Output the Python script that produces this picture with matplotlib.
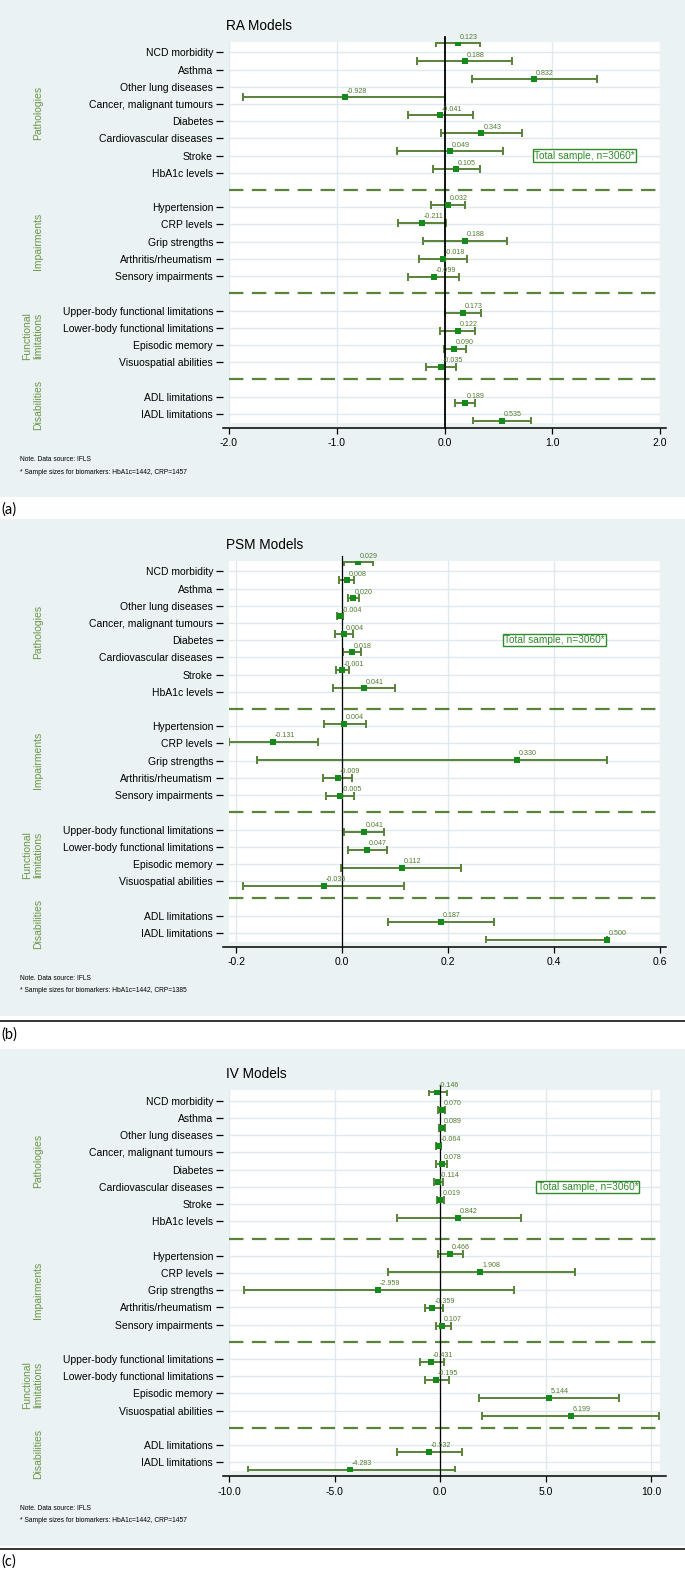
import matplotlib.pyplot as plt
import numpy as np
from matplotlib.patches import Rectangle
from matplotlib.lines import Line2D
from matplotlib.transforms import blended_transform_factory

plt.rcParams['font.family'] = ['Liberation Sans', 'DejaVu Sans']

# ---------------------------------------------------------
# data
# ---------------------------------------------------------
outcomes = ['NCD morbidity', 'Asthma', 'Other lung diseases',
            'Cancer, malignant tumours', 'Diabetes', 'Cardiovascular diseases',
            'Stroke', 'HbA1c levels',
            'Hypertension', 'CRP levels', 'Grip strengths',
            'Arthritis/rheumatism', 'Sensory impairments',
            'Upper-body functional limitations', 'Lower-body functional limitations',
            'Episodic memory', 'Visuospatial abilities',
            'ADL limitations', 'IADL limitations']
groups = ['Pathologies', 'Impairments', 'Functional\nlimitations', 'Disabilities']
group_sizes = [8, 5, 4, 2]

ra_est = [0.123, 0.188, 0.832, -0.928, -0.041, 0.343, 0.049, 0.105,
          0.032, -0.211, 0.188, -0.018, -0.099,
          0.173, 0.122, 0.090, -0.035, 0.189, 0.535]
ra_lo = [-0.081, -0.252, 0.252, -1.866, -0.341, -0.028, -0.442, -0.109,
         -0.122, -0.430, -0.202, -0.239, -0.341,
         0.008, -0.045, -0.008, -0.174, 0.093, 0.268]
ra_hi = [0.329, 0.629, 1.416, 0.008, 0.264, 0.722, 0.544, 0.329,
         0.191, 0.017, 0.584, 0.207, 0.138,
         0.341, 0.284, 0.195, 0.106, 0.284, 0.803]

psm_est = [0.029, 0.008, 0.020, -0.004, 0.004, 0.018, -0.001, 0.041,
           0.004, -0.131, 0.330, -0.009, -0.005,
           0.041, 0.047, 0.112, -0.035, 0.187, 0.500]
psm_lo = [0.003, -0.006, 0.010, -0.010, -0.014, 0.002, -0.012, -0.017,
          -0.035, -0.214, -0.161, -0.036, -0.030,
          0.004, 0.010, -0.002, -0.187, 0.087, 0.271]
psm_hi = [0.058, 0.022, 0.031, 0.002, 0.021, 0.035, 0.012, 0.100,
          0.044, -0.046, 0.500, 0.019, 0.023,
          0.078, 0.084, 0.225, 0.117, 0.287, 0.500]

iv_est = [-0.146, 0.070, 0.089, -0.064, 0.078, -0.114, 0.019, 0.842,
          0.466, 1.908, -2.959, -0.359, 0.107,
          -0.431, -0.195, 5.144, 6.199, -0.532, -4.283]
iv_lo = [-0.51, -0.10, -0.06, -0.17, -0.17, -0.31, -0.14, -2.05,
         -0.08, -2.48, -9.29, -0.72, -0.18,
         -0.97, -0.72, 1.85, 2.01, -2.03, -9.10]
iv_hi = [0.33, 0.22, 0.24, 0.05, 0.33, 0.16, 0.20, 3.84,
         1.11, 6.37, 3.51, 0.14, 0.51,
         0.20, 0.41, 8.48, 10.39, 1.03, 0.72]

titles = ['RA Models', 'PSM Models', 'IV Models']
panel_tags = ['(a)', '(b)', '(c)']
crp_sizes = [1457, 1385, 1457]
xticks_list = [[-2.0, -1.0, 0.0, 1.0, 2.0],
               [-0.2, 0.0, 0.2, 0.4, 0.6],
               [-10.0, -5.0, 0.0, 5.0, 10.0]]
xlims = [(-2.0, 2.0), (-0.214, 0.6), (-10.0, 10.42)]
box_x = [1.30, 0.40, 7.0]        # position of the "Total sample" note
box_row = [6, 4, 5]

# ---------------------------------------------------------
# layout (pixels)
# ---------------------------------------------------------
W, H = 685, 1570
panel_tops = [0, 519, 1048.5]
tag_y = [510, 1035, 1562]
sep_y = [None, 1020.7, 1549.3]

BG = '#eaf2f3'
GRID = '#e0e9ed'
OLIVE = '#5a8238'
MARK = '#148a1a'
TXTG = '#4f7b2e'
GRPG = '#6c9647'

# row positions: one blank row between groups
rows = []
k = 0
for g, n in enumerate(group_sizes):
    for j in range(n):
        rows.append(k)
        k += 1
    k += 1
rows = np.array(rows, dtype=float)
lab_pos = 0.49 + 0.957 * rows
sep_pos = [0.49 + 0.957 * r for r in (8, 14, 19)]

fig = plt.figure(figsize=(W / 100, H / 100), dpi=100)
fig.patch.set_facecolor('white')


def px(x, y):
    return x / W, 1 - y / H


panels = [(ra_est, ra_lo, ra_hi), (psm_est, psm_lo, psm_hi), (iv_est, iv_lo, iv_hi)]

for p, (est, lo, hi) in enumerate(panels):
    T = panel_tops[p]
    est = np.array(est)
    lo = np.array(lo)
    hi = np.array(hi)

    fig.add_artist(Rectangle(px(0, T + 497), 1, 497 / H, transform=fig.transFigure,
                             facecolor=BG, edgecolor='none', zorder=-5))

    ax = fig.add_axes([229 / W, 1 - (T + 422.5) / H, 431 / W, 380.7 / H])
    ax.set_facecolor('white')
    ax.set_xlim(*xlims[p])
    ax.set_ylim(21.07, -0.094)
    scale = 431 / (xlims[p][1] - xlims[p][0])

    ax.set_yticks(lab_pos)
    ax.set_yticklabels(outcomes)
    ax.set_xticks(xticks_list[p])
    ax.set_xticklabels([f'{v:.1f}' for v in xticks_list[p]])
    ax.grid(True, color=GRID, linewidth=1.0)
    ax.set_axisbelow(True)

    for s in ['top', 'right']:
        ax.spines[s].set_visible(False)
    ax.spines['left'].set_position(('outward', 4.3))
    ax.spines['left'].set_visible(False)
    ax.spines['bottom'].set_position(('outward', 3.6))
    ax.spines['bottom'].set_linewidth(1.1)
    ax.spines['bottom'].set_bounds(xlims[p][0] - 6 / scale, xlims[p][1] + 6 / scale)

    ax.tick_params(axis='y', length=5, width=0.9, pad=2.2, labelsize=7.5)
    ax.tick_params(axis='x', length=4, width=0.9, pad=3.6, labelsize=7.5)

    for yy in sep_pos:
        ax.axhline(yy, color=OLIVE, linewidth=1.6, dashes=(6.5, 3.8), zorder=2)

    ax.errorbar(est, rows, xerr=[est - lo, hi - est], fmt='none', ecolor=OLIVE,
                elinewidth=1.4, capsize=3.0, capthick=1.4, zorder=3)
    ax.plot([0, 0], [-0.38, 21.35], color='black',
            linewidth=1.3 if p == 0 else 0.9, clip_on=False, zorder=4)
    ax.plot(est, rows, 's', markersize=3.8, color=MARK, markeredgewidth=0, zorder=5)

    for e, r in zip(est, rows):
        ax.annotate(f'{e:.3f}', (e, r), xytext=(1.3, 4.6), textcoords='offset points',
                    ha='left', va='center', fontsize=5.1, color=TXTG, zorder=6)

    ax.text(box_x[p], lab_pos[box_row[p]], 'Total sample, n=3060*', color='#2e8a2a',
            fontsize=7.3, ha='center', va='center', zorder=6,
            bbox=dict(boxstyle='square,pad=0.12', facecolor='white',
                      edgecolor='#2e8a2a', linewidth=1.0))

    trans = blended_transform_factory(fig.transFigure, ax.transData)
    start = 0
    for g, n in enumerate(group_sizes):
        yc = lab_pos[start:start + n].mean()
        xg = 32.3 if '\n' in groups[g] else 38.4
        ax.text(xg / W, yc, groups[g], transform=trans, rotation=90, ha='center',
                va='center', fontsize=7.5, color=GRPG, linespacing=1.15, clip_on=False)
        start += n

    fig.text(*px(226.3, T + 26), titles[p], fontsize=9.8, va='center', ha='left')
    fig.text(*px(20, T + 459.5), 'Note. Data source: IFLS', fontsize=4.8, va='center')
    fig.text(*px(20, T + 472),
             f'* Sample sizes for biomarkers: HbA1c=1442, CRP={crp_sizes[p]}',
             fontsize=4.8, va='center')

    fig.text(*px(1, tag_y[p]), panel_tags[p], fontsize=10.5, va='center', ha='left',
             family=['Lato', 'DejaVu Sans'])
    if sep_y[p] is not None:
        fig.add_artist(Line2D([0, 1], [1 - sep_y[p] / H] * 2, transform=fig.transFigure,
                              color='black', linewidth=1.1))

fig.savefig('out.png', dpi=100, facecolor='white')
